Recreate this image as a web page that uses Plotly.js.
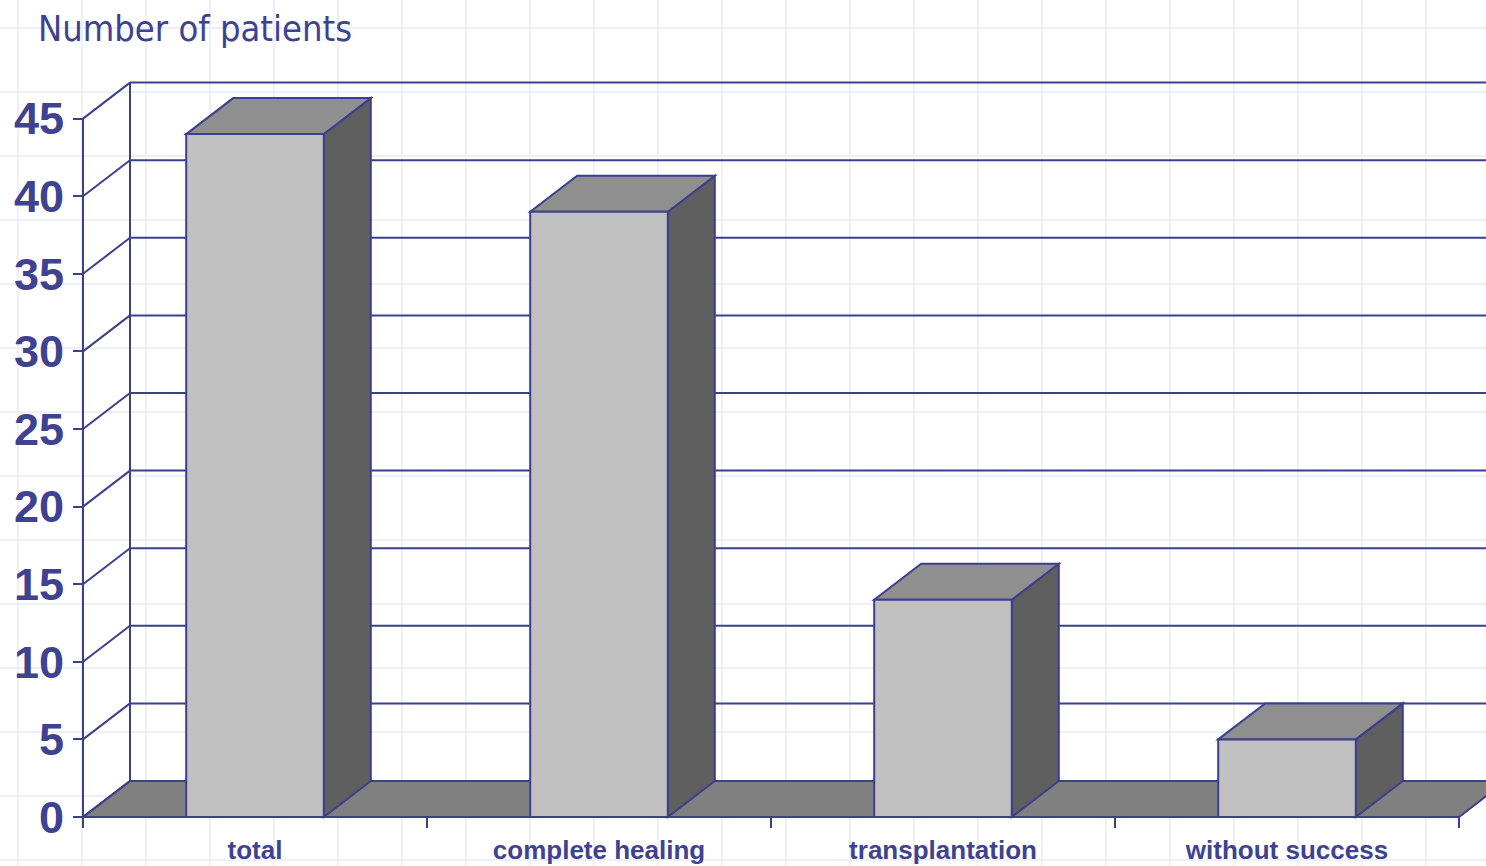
<!DOCTYPE html>
<html>
<head>
<meta charset="utf-8">
<script src="https://cdn.plot.ly/plotly-3.0.1.min.js"></script>
<style>html,body{margin:0;padding:0;background:#fff;}#chart{width:1486px;height:866px;}</style>
</head>
<body>
<div id="chart"></div>
<script>
// ---- data ----
var categories = ['total', 'complete healing', 'transplantation', 'without success'];
var patients = [44, 39, 14, 5];
var yTickValues = [0, 5, 10, 15, 20, 25, 30, 35, 40, 45];
var yTickLabels = ['0', '5', '10', '15', '20', '25', '30', '35', '40', '45'];
var titleText = 'Number of patients';

// ---- layout geometry (pixels) ----
var W = 1486, H = 866;
var AXIS_LEFT_PX = 83;      // x = -0.5
var AXIS_BOTTOM_PX = 817;   // y = 0
var PX_PER_CAT = 344;
var PX_PER_UNIT = 15.52;
var DEPTH_X_PX = 47, DEPTH_Y_PX = 36;
var BAR_W = 0.4;

var xMin = -0.5 - AXIS_LEFT_PX / PX_PER_CAT;
var xMax = -0.5 + (W - AXIS_LEFT_PX) / PX_PER_CAT;
var yMin = -(H - AXIS_BOTTOM_PX) / PX_PER_UNIT;
var yMax = AXIS_BOTTOM_PX / PX_PER_UNIT;
var DX = DEPTH_X_PX / PX_PER_CAT;
var DY = DEPTH_Y_PX / PX_PER_UNIT;

var NAVY = '#3c3f8c';
var TEXT = '#3e4290';
var FRONT = '#c0c0c0', TOP = '#8f8f8f', SIDE = '#5f5f5f', FLOOR = '#808080';
var BGGRID = '#edf0fb';

var catIdx = categories.map(function (c, i) { return i; });
var left = -0.5, right = categories.length - 0.5;
var yTop = yTickValues[yTickValues.length - 1];
var boundaries = [];
for (var b = 0; b <= categories.length; b++) boundaries.push(b - 0.5);

var shapes = [];
// background lavender grid (decoration, paper coordinates)
for (var gx = 18; gx < W; gx += 64) {
  shapes.push({type: 'line', xref: 'paper', yref: 'paper', x0: gx / W, x1: gx / W, y0: 0, y1: 1,
    line: {color: BGGRID, width: 2}, layer: 'below'});
}
for (var gy = 28; gy < H; gy += 64) {
  shapes.push({type: 'line', xref: 'paper', yref: 'paper', x0: 0, x1: 1, y0: 1 - gy / H, y1: 1 - gy / H,
    line: {color: BGGRID, width: 2}, layer: 'below'});
}
function P(pts) {
  return 'M' + pts.map(function (p) { return p[0] + ',' + p[1]; }).join('L') + 'Z';
}
// floor
shapes.push({type: 'path', xref: 'x', yref: 'y', layer: 'below',
  path: P([[left, 0], [right, 0], [right + DX, DY], [left + DX, DY]]),
  fillcolor: FLOOR, line: {color: NAVY, width: 2}});
// back wall gridlines
yTickValues.forEach(function (v) {
  if (v === 0) return;
  shapes.push({type: 'line', xref: 'x', yref: 'y', layer: 'below',
    x0: left + DX, x1: xMax + 1, y0: v + DY, y1: v + DY, line: {color: NAVY, width: 2}});
});
// left wall back edge
shapes.push({type: 'line', xref: 'x', yref: 'y', layer: 'below',
  x0: left + DX, x1: left + DX, y0: DY, y1: yTop + DY, line: {color: NAVY, width: 2}});
// left wall diagonals
yTickValues.forEach(function (v) {
  shapes.push({type: 'line', xref: 'x', yref: 'y', layer: 'below',
    x0: left, x1: left + DX, y0: v, y1: v + DY, line: {color: NAVY, width: 2}});
});
// front vertical axis line
shapes.push({type: 'line', xref: 'x', yref: 'y', layer: 'below',
  x0: left, x1: left, y0: 0, y1: yTop, line: {color: NAVY, width: 2}});
// bar side and top faces
patients.forEach(function (v, i) {
  var x0 = i - BAR_W / 2, x1 = i + BAR_W / 2;
  shapes.push({type: 'path', xref: 'x', yref: 'y', layer: 'below',
    path: P([[x1, 0], [x1, v], [x1 + DX, v + DY], [x1 + DX, DY]]),
    fillcolor: SIDE, line: {color: NAVY, width: 2}});
  shapes.push({type: 'path', xref: 'x', yref: 'y', layer: 'below',
    path: P([[x0, v], [x0 + DX, v + DY], [x1 + DX, v + DY], [x1, v]]),
    fillcolor: TOP, line: {color: NAVY, width: 2}});
});

var traces = [
  {type: 'bar', x: catIdx, y: patients, width: BAR_W, xaxis: 'x', yaxis: 'y',
   marker: {color: FRONT, line: {color: NAVY, width: 2}}, hoverinfo: 'y'},
  {type: 'scatter', x: boundaries, y: boundaries.map(function () { return 0; }), mode: 'none',
   xaxis: 'x2', yaxis: 'y', hoverinfo: 'skip', showlegend: false}
];

var tickFont = {family: 'Liberation Sans, Arial, sans-serif', color: TEXT, weight: 700};

var layout = {
  width: W, height: H,
  margin: {l: 0, r: 0, t: 0, b: 0, pad: 0},
  paper_bgcolor: '#ffffff', plot_bgcolor: 'rgba(0,0,0,0)',
  showlegend: false,
  bargap: 0,
  title: {text: titleText, x: 38 / W, xanchor: 'left', xref: 'paper', y: 1 - 16 / H, yanchor: 'top', yref: 'container',
    font: {family: 'DejaVu Sans Condensed, DejaVu Sans, sans-serif', size: 36, color: TEXT}},
  xaxis: {range: [xMin, xMax], anchor: 'free', position: (H - AXIS_BOTTOM_PX) / H,
    tickvals: catIdx, ticktext: categories, ticks: '', ticklabelstandoff: 15, showgrid: false, zeroline: false, showline: false,
    tickfont: Object.assign({size: 26}, tickFont), automargin: false, fixedrange: true},
  xaxis2: {range: [xMin, xMax], overlaying: 'x', anchor: 'free', position: (H - AXIS_BOTTOM_PX) / H, side: 'bottom',
    tickvals: boundaries, ticks: 'outside', ticklen: 10, tickwidth: 2, tickcolor: NAVY,
    showticklabels: false, showgrid: false, zeroline: false, showline: false, automargin: false, fixedrange: true},
  yaxis: {range: [yMin, yMax], anchor: 'free', position: AXIS_LEFT_PX / W,
    tickvals: yTickValues, ticktext: yTickLabels, ticks: 'outside', ticklen: 10, tickwidth: 2, tickcolor: NAVY,
    showgrid: false, zeroline: false, showline: false,
    tickfont: Object.assign({size: 45}, tickFont), automargin: false, fixedrange: true},
  shapes: shapes
};

Plotly.newPlot('chart', traces, layout, {displayModeBar: false, staticPlot: true});
</script>
</body>
</html>
